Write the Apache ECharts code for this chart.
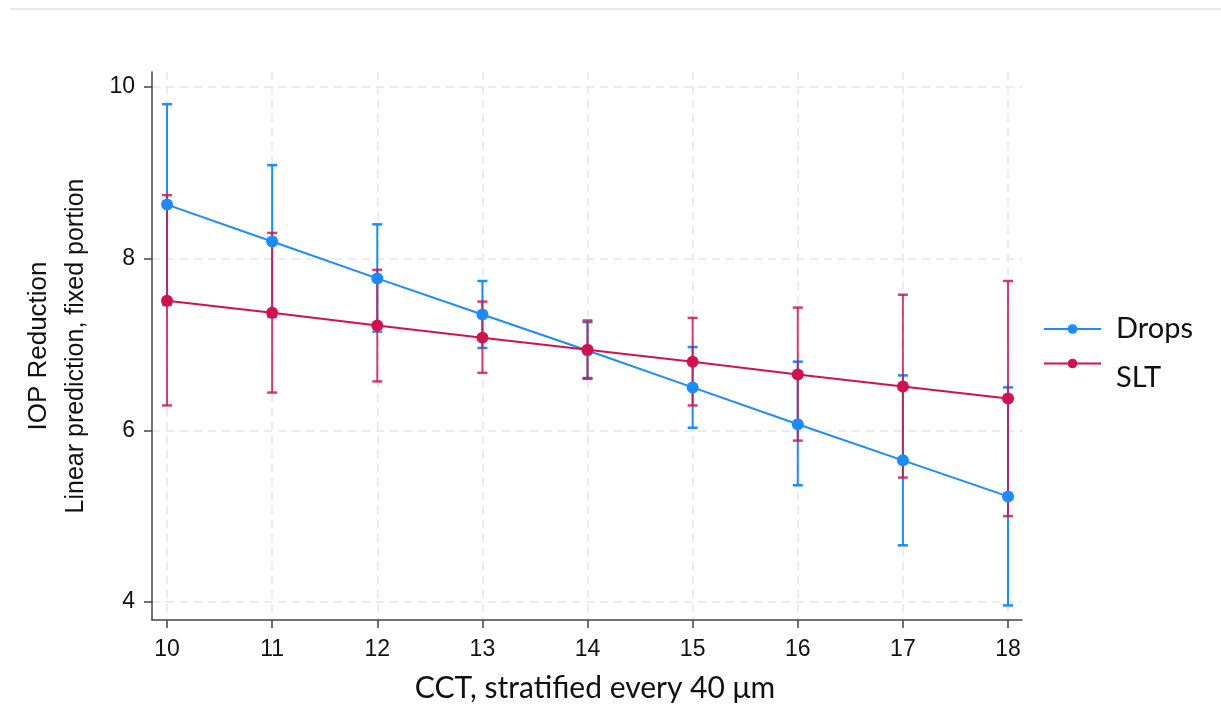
<!DOCTYPE html>
<html><head><meta charset="utf-8">
<script src="https://cdn.jsdelivr.net/npm/echarts@6/dist/echarts.min.js"></script>
<style>html,body{margin:0;padding:0;background:#fff}#c{width:1221px;height:719px}</style>
</head><body><div id="c"></div>
<script>
const cct = [10, 11, 12, 13, 14, 15, 16, 17, 18];
const dropsMean = [8.63, 8.20, 7.77, 7.35, 6.93, 6.50, 6.07, 5.65, 5.23];
const dropsLow  = [7.46, 7.32, 7.15, 6.96, 6.61, 6.03, 5.36, 4.66, 3.96];
const dropsHigh = [9.80, 9.09, 8.40, 7.74, 7.26, 6.97, 6.80, 6.64, 6.50];
const sltMean = [7.51, 7.37, 7.22, 7.08, 6.94, 6.80, 6.65, 6.51, 6.37];
const sltLow  = [6.29, 6.44, 6.57, 6.67, 6.60, 6.29, 5.88, 5.45, 5.00];
const sltHigh = [8.74, 8.30, 7.87, 7.50, 7.28, 7.31, 7.43, 7.58, 7.74];
const yTicks = [4, 6, 8, 10];
const xTicks = cct;

const BLUE = '#1a8cff', RED = '#d1124f';

function errRender(color, opacity) {
  return function (params, api) {
    const x = api.value(0), lo = api.value(1), hi = api.value(2);
    const p1 = api.coord([x, lo]), p2 = api.coord([x, hi]);
    const hw = 5;
    const style = { stroke: color, lineWidth: 2, opacity: opacity };
    const cap = Object.assign({}, style, { lineWidth: 2.5 });
    return { type: 'group', children: [
      { type: 'line', shape: { x1: p1[0], y1: p1[1], x2: p2[0], y2: p2[1] }, style: style },
      { type: 'line', shape: { x1: p1[0] - hw, y1: p1[1], x2: p1[0] + hw, y2: p1[1] }, style: cap },
      { type: 'line', shape: { x1: p2[0] - hw, y1: p2[1], x2: p2[0] + hw, y2: p2[1] }, style: cap }
    ]};
  };
}

const legendBase = {
  orient: 'vertical', left: 1043, padding: 0,
  itemWidth: 57, itemHeight: 12
};

const chart = echarts.init(document.getElementById('c'), null, { renderer: 'canvas' });
const gridLine = { show: true, lineStyle: { color: '#e6e6e6', width: 1.5, type: [8, 6] } };
chart.setOption({
  backgroundColor: '#fff',
  animation: false,
  graphic: [{ type: 'line', shape: { x1: 10, y1: 9, x2: 1221, y2: 9 }, style: { stroke: '#e2e2e2', lineWidth: 1.5 } }],
  grid: { left: 152, right: 199, top: 72, bottom: 99 },
  legend: [
    Object.assign({}, legendBase, { data: ['Drops'], top: 314,
      textStyle: { fontSize: 29, fontFamily: 'Lato', color: '#111', lineHeight: 30, padding: [0, 0, 0, 10] } }),
    Object.assign({}, legendBase, { data: ['SLT'], top: 335,
      formatter: function (n) { return '\n' + n; },
      textStyle: { fontSize: 29, fontFamily: 'Lato', color: '#111', lineHeight: 28, padding: [0, 0, 0, 10] } })
  ],
  xAxis: {
    type: 'value', min: 9.857, max: 18.133,
    name: 'CCT, stratified every 40 \u03bcm', nameLocation: 'middle', nameGap: 53,
    nameTextStyle: { fontSize: 30, fontFamily: 'Lato', color: '#111', padding: [0, 0, 0, 16] },
    axisLine: { show: true, lineStyle: { color: '#444', width: 1.5 } },
    axisTick: { show: true, length: 8, customValues: xTicks, lineStyle: { color: '#444', width: 1.5 } },
    axisLabel: { customValues: xTicks, fontSize: 23, fontFamily: 'Liberation Sans', color: '#111', margin: 18 },
    splitLine: gridLine
  },
  yAxis: {
    type: 'value', min: 3.79, max: 10.175,
    name: '{a|IOP Reduction}\n{b|Linear prediction, fixed portion}',
    nameLocation: 'middle', nameRotate: 90, nameGap: 61,
    nameTextStyle: { rich: {
      a: { fontSize: 26, fontFamily: 'Liberation Sans', color: '#111', lineHeight: 44, align: 'center' },
      b: { fontSize: 25, fontFamily: 'Liberation Sans', color: '#111', lineHeight: 30, align: 'center' }
    } },
    axisLine: { show: true, lineStyle: { color: '#444', width: 1.5 } },
    axisTick: { show: true, length: 8, customValues: yTicks, lineStyle: { color: '#444', width: 1.5 } },
    axisLabel: { customValues: yTicks, fontSize: 23, fontFamily: 'Liberation Sans', color: '#111', margin: 17 },
    splitLine: gridLine
  },
  series: [
    { name: 'Drops CI', type: 'custom', renderItem: errRender(BLUE, 1), z: 2,
      data: cct.map((x, i) => [x, dropsLow[i], dropsHigh[i]]) },
    { name: 'SLT CI', type: 'custom', renderItem: errRender(RED, 0.82), z: 3,
      data: cct.map((x, i) => [x, sltLow[i], sltHigh[i]]) },
    { name: 'Drops', type: 'line', z: 4, symbol: 'circle', symbolSize: 12,
      color: BLUE, lineStyle: { width: 2, color: BLUE }, itemStyle: { color: BLUE },
      data: cct.map((x, i) => [x, dropsMean[i]]) },
    { name: 'SLT', type: 'line', z: 5, symbol: 'circle', symbolSize: 12,
      color: RED, lineStyle: { width: 2, color: RED }, itemStyle: { color: RED },
      data: cct.map((x, i) => [x, sltMean[i]]) }
  ]
});
</script></body></html>
